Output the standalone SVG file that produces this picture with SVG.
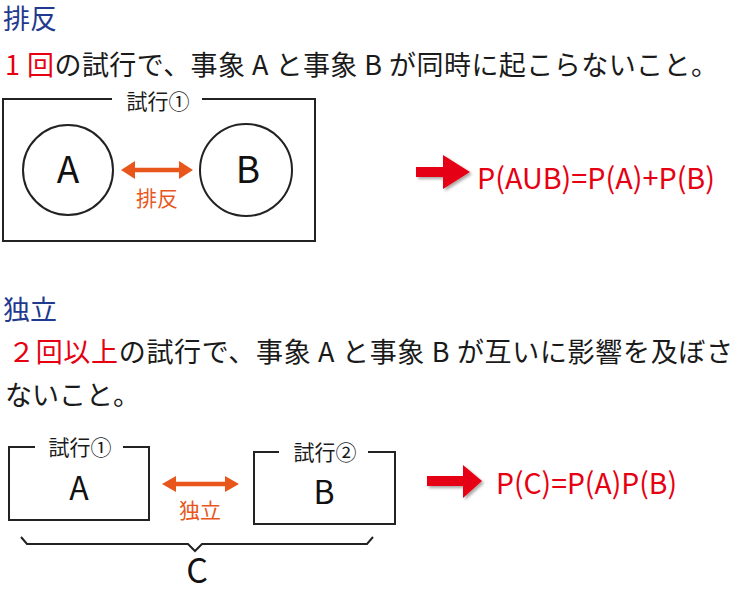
<svg xmlns="http://www.w3.org/2000/svg" width="738" height="597" viewBox="0 0 738 597">
<style>
text{font-family:"Noto Sans CJK JP","Noto Sans",sans-serif}
.title{fill:#1f3a8f;font-size:27px}
.body{fill:#1a1a1a;font-size:27px}
.red{fill:#e60012}
.lbl{fill:#1a1a1a;font-size:21px;text-anchor:middle}
.big{fill:#111;text-anchor:middle}
.org{fill:#e8561c;font-size:21px;text-anchor:middle}
.frm{fill:#e60012;font-size:29px}
.box{fill:none;stroke:#222;stroke-width:2}
.oline{stroke:#e8561c;stroke-width:4.5}
.ohead{fill:#e8561c}
.rarrow{fill:#e60012;filter:url(#sh)}
</style>
<defs>
<filter id="sh" x="-20%" y="-30%" width="150%" height="170%">
<feDropShadow dx="2" dy="2" stdDeviation="1.5" flood-color="#000" flood-opacity="0.35"/>
</filter>
</defs>

<g id="section1-text">
<text class="title" x="3" y="29">排反</text>
<text class="body" x="5" y="75" textLength="713" lengthAdjust="spacing"><tspan class="red">1 回</tspan>の試行で、事象 A と事象 B が同時に起こらないこと。</text>
</g>

<g id="trial1-box">
<path class="box" d="M112,99 H3 V241 H315 V99 H202"/>
<text class="lbl" x="158" y="109">試行①</text>
</g>
<g id="circleA">
<circle class="box" cx="68" cy="170" r="45"/>
<text class="big" x="68" y="183" font-size="37">A</text>
</g>
<g id="circleB">
<circle class="box" cx="246" cy="170" r="46"/>
<text class="big" x="248" y="183" font-size="37">B</text>
</g>

<g id="connectors">
<line class="oline" x1="132" y1="170" x2="182" y2="170"/>
<polygon class="ohead" points="121,170 135,161 135,179"/>
<polygon class="ohead" points="193,170 179,161 179,179"/>
<text class="org" x="157" y="206">排反</text>

<line class="oline" x1="173" y1="484" x2="228" y2="484"/>
<polygon class="ohead" points="162,484 176,476 176,492"/>
<polygon class="ohead" points="239,484 225,476 225,492"/>
<text class="org" x="200" y="518">独立</text>

<polygon class="rarrow" points="416,167 443,167 443,155 470,172 443,189 443,177 416,177"/>
<polygon class="rarrow" points="427,476 463,476 463,465 482,481 463,498 463,486 427,486"/>
<path d="M21,537 L27,544 L188,544 L195,551 L202,544 L367,544 L373,537" fill="none" stroke="#222" stroke-width="2"/>
</g>

<g id="formula1">
<text class="frm" x="477" y="189" textLength="238" lengthAdjust="spacingAndGlyphs">P(AUB)=P(A)+P(B)</text>
</g>

<g id="section2-text">
<text class="title" x="3" y="320">独立</text>
<text class="body" x="8" y="362" textLength="725" lengthAdjust="spacing"><tspan class="red">２回以上</tspan>の試行で、事象 A と事象 B が互いに影響を及ぼさ</text>
<text class="body" x="5" y="405">ないこと。</text>
</g>

<g id="trial1">
<path class="box" d="M35,447 H9 V520 H149 V447 H123"/>
<text class="lbl" x="80" y="455">試行①</text>
<text class="big" x="79" y="500" font-size="32">A</text>
</g>
<g id="trial2">
<path class="box" d="M279,452 H254 V524 H395 V452 H368"/>
<text class="lbl" x="325" y="460">試行②</text>
<text class="big" x="324" y="504" font-size="32">B</text>
</g>

<g id="labelC">
<text class="big" x="197" y="583" font-size="34">C</text>
</g>

<g id="formula2">
<text class="frm" x="496" y="494" textLength="181" lengthAdjust="spacingAndGlyphs">P(C)=P(A)P(B)</text>
</g>
</svg>
